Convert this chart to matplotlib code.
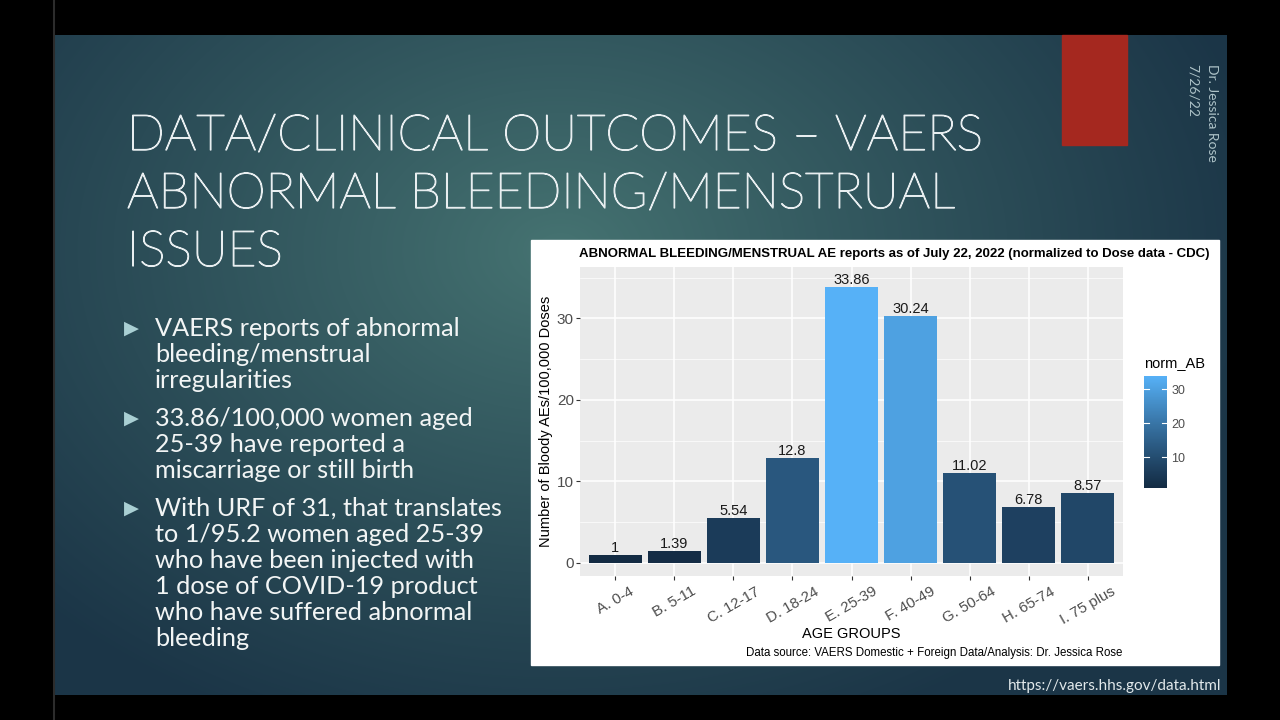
#!/usr/bin/env python3
"""Slide: VAERS abnormal bleeding / menstrual AE reports by age group."""
import numpy as np
import matplotlib
matplotlib.use("Agg")
import matplotlib.pyplot as plt
import matplotlib.patheffects as pe
from matplotlib.colors import ListedColormap, Normalize, to_rgb
from matplotlib.cm import ScalarMappable

W, H = 1280, 720

# ---- data -------------------------------------------------------------
groups = ["A. 0-4", "B. 5-11", "C. 12-17", "D. 18-24", "E. 25-39",
          "F. 40-49", "G. 50-64", "H. 65-74", "I. 75 plus"]
norm_ab = [1.0, 1.39, 5.54, 12.8, 33.86, 30.24, 11.02, 6.78, 8.57]
value_labels = ["1", "1.39", "5.54", "12.8", "33.86", "30.24", "11.02", "6.78", "8.57"]
yticks = [0, 10, 20, 30]
legend_ticks = [10, 20, 30]

title_lines = ["DATA/CLINICAL OUTCOMES \u2013 VAERS", "ABNORMAL BLEEDING/MENSTRUAL", "ISSUES"]
bullets = [
    ["VAERS reports of abnormal", "bleeding/menstrual", "irregularities"],
    ["33.86/100,000 women aged", "25-39 have reported a", "miscarriage or still birth"],
    ["With URF of 31, that translates", "to 1/95.2 women aged 25-39",
     "who have been injected with", "1 dose of COVID-19 product",
     "who have suffered abnormal", "bleeding"],
]
chart_title = "ABNORMAL BLEEDING/MENSTRUAL AE reports as of July 22, 2022 (normalized to Dose data - CDC)"
caption = "Data source: VAERS Domestic + Foreign Data/Analysis: Dr. Jessica Rose"

SLIDE_FONT = ["Lato", "DejaVu Sans"]
GG_FONT = ["Liberation Sans", "DejaVu Sans"]
TXT = "#4d4d4d"


def fx(x):
    return x / W


def fy(y):
    return 1 - y / H


# ggplot-like gradient (interpolated in Lab space)
M = np.array([[0.4124, 0.3576, 0.1805], [0.2126, 0.7152, 0.0722], [0.0193, 0.1192, 0.9505]])
WP = np.array([0.95047, 1.0, 1.08883])


def to_lab(c):
    c = np.array(to_rgb(c))
    c = np.where(c <= 0.04045, c / 12.92, ((c + 0.055) / 1.055) ** 2.4)
    xyz = M @ c / WP
    f = np.where(xyz > 0.008856, np.cbrt(xyz), 7.787 * xyz + 16 / 116)
    return np.array([116 * f[1] - 16, 500 * (f[0] - f[1]), 200 * (f[1] - f[2])])


def from_lab(lab):
    fy_ = (lab[0] + 16) / 116
    f = np.array([fy_ + lab[1] / 500, fy_, fy_ - lab[2] / 200])
    xyz = np.where(f ** 3 > 0.008856, f ** 3, (f - 16 / 116) / 7.787) * WP
    c = np.linalg.solve(M, xyz)
    c = np.where(c <= 0.0031308, 12.92 * c, 1.055 * np.clip(c, 0, None) ** (1 / 2.4) - 0.055)
    return np.clip(c, 0, 1)


lo, hi = to_lab("#132B43"), to_lab("#56B1F7")
cmap = ListedColormap([from_lab(lo + (hi - lo) * t) for t in np.linspace(0, 1, 256)])

fig = plt.figure(figsize=(W / 100, H / 100), dpi=100, facecolor="black")

# ---- slide background ---------------------------------------------------
bg = fig.add_axes([0, 0, 1, 1])
bg.axis("off")

yy, xx = np.mgrid[35:695, 55:1227]
d = np.sqrt(((xx - 560) / 720) ** 2 + ((yy - 250) / 520) ** 2)
d = np.clip(d, 0, 1) ** 0.9
inner = np.array([0x46, 0x74, 0x72]) / 255
outer = np.array([0x1b, 0x35, 0x47]) / 255
grad = inner[None, None, :] * (1 - d[..., None]) + outer[None, None, :] * d[..., None]
bg.imshow(grad, extent=(55, 1227, 695, 35), aspect="auto", zorder=0)
bg.axvline(54, color="#2c2c2c", lw=1.5)
bg.set_xlim(0, W)
bg.set_ylim(H, 0)

# red accent block
bg.add_patch(plt.Rectangle((1062, 35), 65, 110, color="#a5281f", zorder=2))

# vertical author/date text
bg.text(1212, 64, "Dr. Jessica Rose", rotation=-90, rotation_mode="anchor",
        ha="left", va="center", color="#aec3c8", fontsize=10, family=SLIDE_FONT)
bg.text(1193, 64, "7/26/22", rotation=-90, rotation_mode="anchor",
        ha="left", va="center", color="#aec3c8", fontsize=10, family=SLIDE_FONT)

# slide title
for i, line in enumerate(title_lines):
    bg.text(127, 150 + i * 58, line, ha="left", va="baseline", color="#e8eef0",
            fontsize=35.8, family=SLIDE_FONT, fontweight="light",
            path_effects=[pe.withStroke(linewidth=0.9, foreground="#e8eef0")])

# bullets
y = 336
for blk in bullets:
    bg.text(124, y - 8, "\u25B6", ha="left", va="center", color="#a9cfd3",
            fontsize=14, family=["DejaVu Sans"])
    for line in blk:
        bg.text(155, y, line, ha="left", va="baseline", color="#f2f5f5",
                fontsize=18.2, family=SLIDE_FONT)
        y += 26
    y += 12

# url
bg.text(1221, 690, "https://vaers.hhs.gov/data.html", ha="right", va="baseline",
        color="#e2e9eb", fontsize=11, family=SLIDE_FONT)

# ---- embedded ggplot-style chart ----------------------------------------
bg.add_patch(plt.Rectangle((531, 240), 688, 425, color="white", zorder=3))

norm = Normalize(vmin=min(norm_ab), vmax=max(norm_ab))

ax = fig.add_axes([fx(580), fy(576), fx(1123) - fx(580), fy(267) - fy(576)])
ax.set_facecolor("#EBEBEB")
x = np.arange(1, len(groups) + 1)
ax.bar(x, norm_ab, width=0.9, color=cmap(norm(norm_ab)), zorder=3)
for xi, v, lab in zip(x, norm_ab, value_labels):
    ax.text(xi, v, lab, ha="center", va="bottom", fontsize=10.5, color="#1a1a1a",
            family=GG_FONT, zorder=4)
ax.set_xlim(0.4, len(groups) + 0.6)
ax.set_ylim(-1.63, 36.3)
ax.set_yticks(yticks)
ax.set_yticks([5, 15, 25, 35], minor=True)
ax.set_xticks(x)
ax.set_xticklabels(groups, rotation=30, ha="center", fontsize=10.8, color=TXT,
                   family=GG_FONT)
for t in ax.get_yticklabels():
    t.set_family(GG_FONT)
ax.tick_params(axis="y", labelsize=11, labelcolor=TXT, color="#333333",
               length=3, width=0.8, pad=1.5)
ax.tick_params(axis="x", color="#333333", length=3, width=0.8, pad=3)
ax.tick_params(which="minor", length=0)
ax.grid(which="major", color="white", lw=1.1, zorder=1)
ax.grid(which="minor", axis="y", color="white", lw=0.5, zorder=1)
for s in ax.spines.values():
    s.set_visible(False)
ax.set_axisbelow(True)
ax.set_ylabel("Number of Bloody AEs/100,000 Doses", fontsize=10.5, color="black",
              family=GG_FONT, labelpad=3)

fig.text(fx(851), fy(638), "AGE GROUPS", ha="center", va="baseline",
         fontsize=10.5, color="black", family=GG_FONT)
fig.text(fx(1122), fy(656), caption, ha="right", va="baseline",
         fontsize=8.3, color="black", family=GG_FONT)
fig.text(fx(579), fy(257), chart_title, ha="left", va="baseline",
         fontsize=9.5, fontweight="bold", color="black", family=GG_FONT)

# colour legend
fig.text(fx(1144), fy(367), "norm_AB", ha="left", va="baseline",
         fontsize=10.5, color="black", family=GG_FONT)
cax = fig.add_axes([fx(1144), fy(488), fx(1167) - fx(1144), fy(376) - fy(488)])
cb = fig.colorbar(ScalarMappable(norm=norm, cmap=cmap), cax=cax)
cb.outline.set_visible(False)
cb.set_ticks(legend_ticks)
cax.tick_params(labelsize=9, labelcolor=TXT, length=0, pad=3)
for t in cax.get_yticklabels():
    t.set_family(GG_FONT)
for v in legend_ticks:
    cax.axhline(v, xmin=0, xmax=0.2, color="white", lw=0.8)
    cax.axhline(v, xmin=0.8, xmax=1, color="white", lw=0.8)

fig.savefig("out.png", dpi=100, facecolor="black")
